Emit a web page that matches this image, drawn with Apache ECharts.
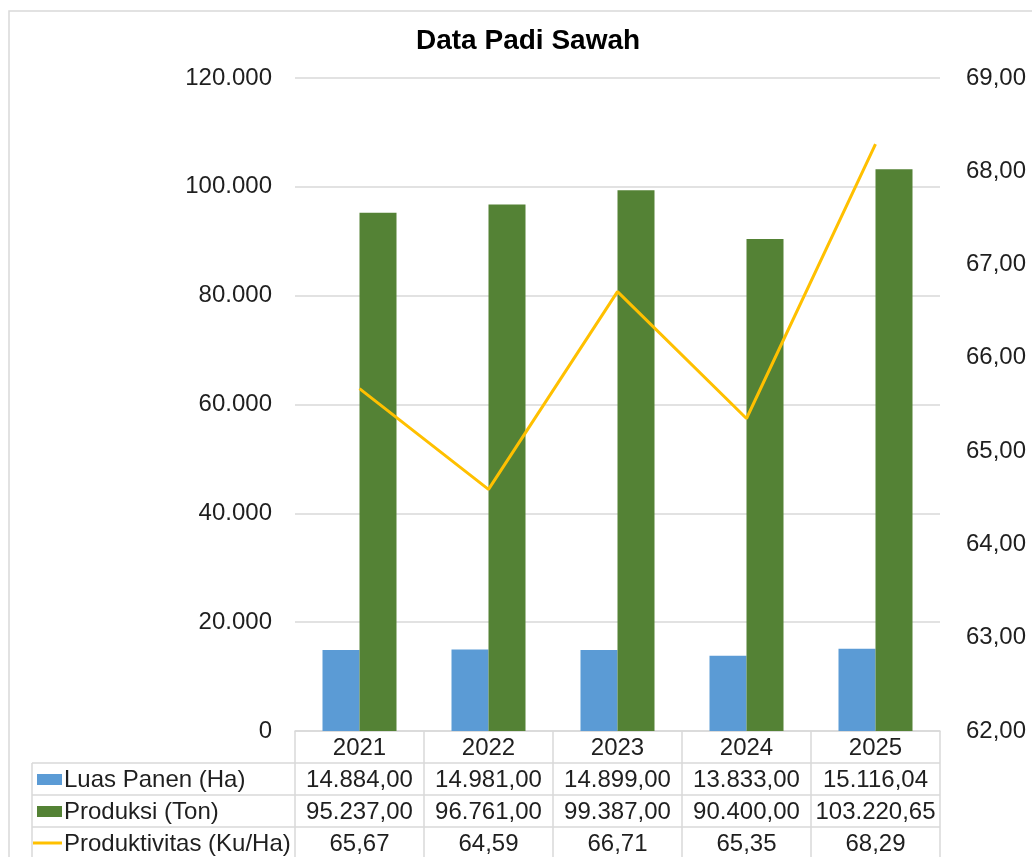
<!DOCTYPE html>
<html>
<head>
<meta charset="utf-8">
<style>
  html, body { margin: 0; padding: 0; background: #fff; }
  #chart { width: 1032px; height: 857px; }
</style>
<script src="https://cdn.jsdelivr.net/npm/echarts@6/dist/echarts.min.js"></script>
</head>
<body>
<div id="chart"></div>
<script>
// ---- Data ----
const categories = ['2021', '2022', '2023', '2024', '2025'];
const luasPanen = [14884.00, 14981.00, 14899.00, 13833.00, 15116.04];
const produksi = [95237.00, 96761.00, 99387.00, 90400.00, 103220.65];
const produktivitas = [65.67, 64.59, 66.71, 65.35, 68.29];
const seriesNames = ['Luas Panen (Ha)', 'Produksi (Ton)', 'Produktivitas (Ku/Ha)'];
const titleText = 'Data Padi Sawah';

// ---- Formatting (Indonesian style: '.' thousands, ',' decimals) ----
function fmtNum(v, decimals) {
  const fixed = Math.abs(v).toFixed(decimals);
  let [intPart, decPart] = fixed.split('.');
  intPart = intPart.replace(/\B(?=(\d{3})+(?!\d))/g, '.');
  return (v < 0 ? '-' : '') + intPart + (decPart ? ',' + decPart : '');
}

const FONT = '"Liberation Sans", Arial, sans-serif';
const TEXT_COLOR = '#1f1f1f';
const GRID_COLOR = '#d9d9d9';
const BLUE = '#5b9bd5';
const GREEN = '#548235';
const YELLOW = '#ffc000';

const G = { left: 295, right: 92, top: 78, bottom: 126 };

const chart = echarts.init(document.getElementById('chart'), null, { renderer: 'canvas' });

const option = {
  animation: false,
  backgroundColor: '#fff',
  textStyle: { fontFamily: FONT },
  title: {
    text: titleText,
    left: 411,
    top: 22,
    textStyle: { fontFamily: FONT, fontSize: 28, fontWeight: 'bold', color: '#000' }
  },
  grid: { left: G.left, right: G.right, top: G.top, bottom: G.bottom, containLabel: false },
  xAxis: {
    type: 'category',
    data: categories,
    boundaryGap: true,
    axisLine: { show: true, lineStyle: { color: GRID_COLOR, width: 1.5 } },
    axisTick: { show: false },
    axisLabel: { show: false },
    splitLine: { show: false }
  },
  yAxis: [
    {
      type: 'value',
      min: 0, max: 120000, interval: 20000,
      axisLine: { show: false },
      axisTick: { show: false },
      axisLabel: {
        margin: 23,
        fontFamily: FONT, fontSize: 24, color: TEXT_COLOR,
        formatter: v => fmtNum(v, 0)
      },
      splitLine: { show: true, lineStyle: { color: GRID_COLOR, width: 1.5 } }
    },
    {
      type: 'value',
      min: 62, max: 69, interval: 1,
      position: 'right',
      axisLine: { show: false },
      axisTick: { show: false },
      axisLabel: {
        margin: 26,
        fontFamily: FONT, fontSize: 24, color: TEXT_COLOR,
        formatter: v => fmtNum(v, 2)
      },
      splitLine: { show: false }
    }
  ],
  series: [
    {
      name: seriesNames[0], type: 'bar', data: luasPanen,
      barWidth: 37, barGap: '0%',
      itemStyle: { color: BLUE }
    },
    {
      name: seriesNames[1], type: 'bar', data: produksi,
      barWidth: 37, barGap: '0%',
      itemStyle: { color: GREEN }
    },
    {
      name: seriesNames[2], type: 'line', data: produktivitas, yAxisIndex: 1,
      showSymbol: false, symbol: 'none',
      lineStyle: { color: YELLOW, width: 3 },
      itemStyle: { color: YELLOW },
      z: 5
    }
  ]
};

chart.setOption(option);

// ---- Data table under the chart ----
function buildTable() {
  const els = [];
  const W = 1032, H = 857;
  const x0 = G.left, x1 = W - G.right;
  const yAxisLine = H - G.bottom;
  const rowH = 32;
  const legendLeft = 32;
  const bandW = (x1 - x0) / categories.length;
  const lineStyle = { stroke: GRID_COLOR, lineWidth: 1.5 };

  // outer chart border
  els.push({ type: 'rect', shape: { x: 9, y: 11, width: W + 20, height: H + 20 },
    style: { fill: 'none', stroke: GRID_COLOR, lineWidth: 1.5 }, silent: true, z: 0 });

  const rows = [
    { y: yAxisLine, labels: categories },
    { y: yAxisLine + rowH, labels: luasPanen.map(v => fmtNum(v, 2)) },
    { y: yAxisLine + 2 * rowH, labels: produksi.map(v => fmtNum(v, 2)) },
    { y: yAxisLine + 3 * rowH, labels: produktivitas.map(v => fmtNum(v, 2)) }
  ];

  // horizontal lines
  for (let r = 1; r <= 3; r++) {
    const y = yAxisLine + r * rowH;
    els.push({ type: 'line', shape: { x1: legendLeft, y1: y, x2: x1, y2: y }, style: lineStyle, silent: true });
  }
  // vertical lines
  for (let i = 0; i <= categories.length; i++) {
    const x = x0 + i * bandW;
    els.push({ type: 'line', shape: { x1: x, y1: yAxisLine, x2: x, y2: H + 5 }, style: lineStyle, silent: true });
  }
  els.push({ type: 'line', shape: { x1: legendLeft, y1: yAxisLine + rowH, x2: legendLeft, y2: H + 5 }, style: lineStyle, silent: true });

  // cell texts
  rows.forEach(row => {
    row.labels.forEach((lab, i) => {
      const cx = chart.convertToPixel({ xAxisIndex: 0 }, categories[i]);
      els.push({
        type: 'text', silent: true,
        style: { x: cx, y: row.y + rowH / 2 + 1, text: lab, align: 'center', verticalAlign: 'middle',
          font: '24px ' + FONT, fill: TEXT_COLOR }
      });
    });
  });

  // legend keys + names
  const colors = [BLUE, GREEN, YELLOW];
  seriesNames.forEach((name, k) => {
    const cy = yAxisLine + (k + 1) * rowH + rowH / 2;
    if (k < 2) {
      els.push({ type: 'rect', silent: true, shape: { x: 37, y: cy - 5, width: 25, height: 11 },
        style: { fill: colors[k] } });
    } else {
      els.push({ type: 'line', silent: true, shape: { x1: 33, y1: cy, x2: 62, y2: cy },
        style: { stroke: colors[k], lineWidth: 3 } });
    }
    els.push({ type: 'text', silent: true,
      style: { x: 64, y: cy + 1, text: name, align: 'left', verticalAlign: 'middle',
        font: '24px ' + FONT, fill: TEXT_COLOR } });
  });

  chart.setOption({ graphic: { elements: els } });
}
buildTable();
</script>
</body>
</html>
